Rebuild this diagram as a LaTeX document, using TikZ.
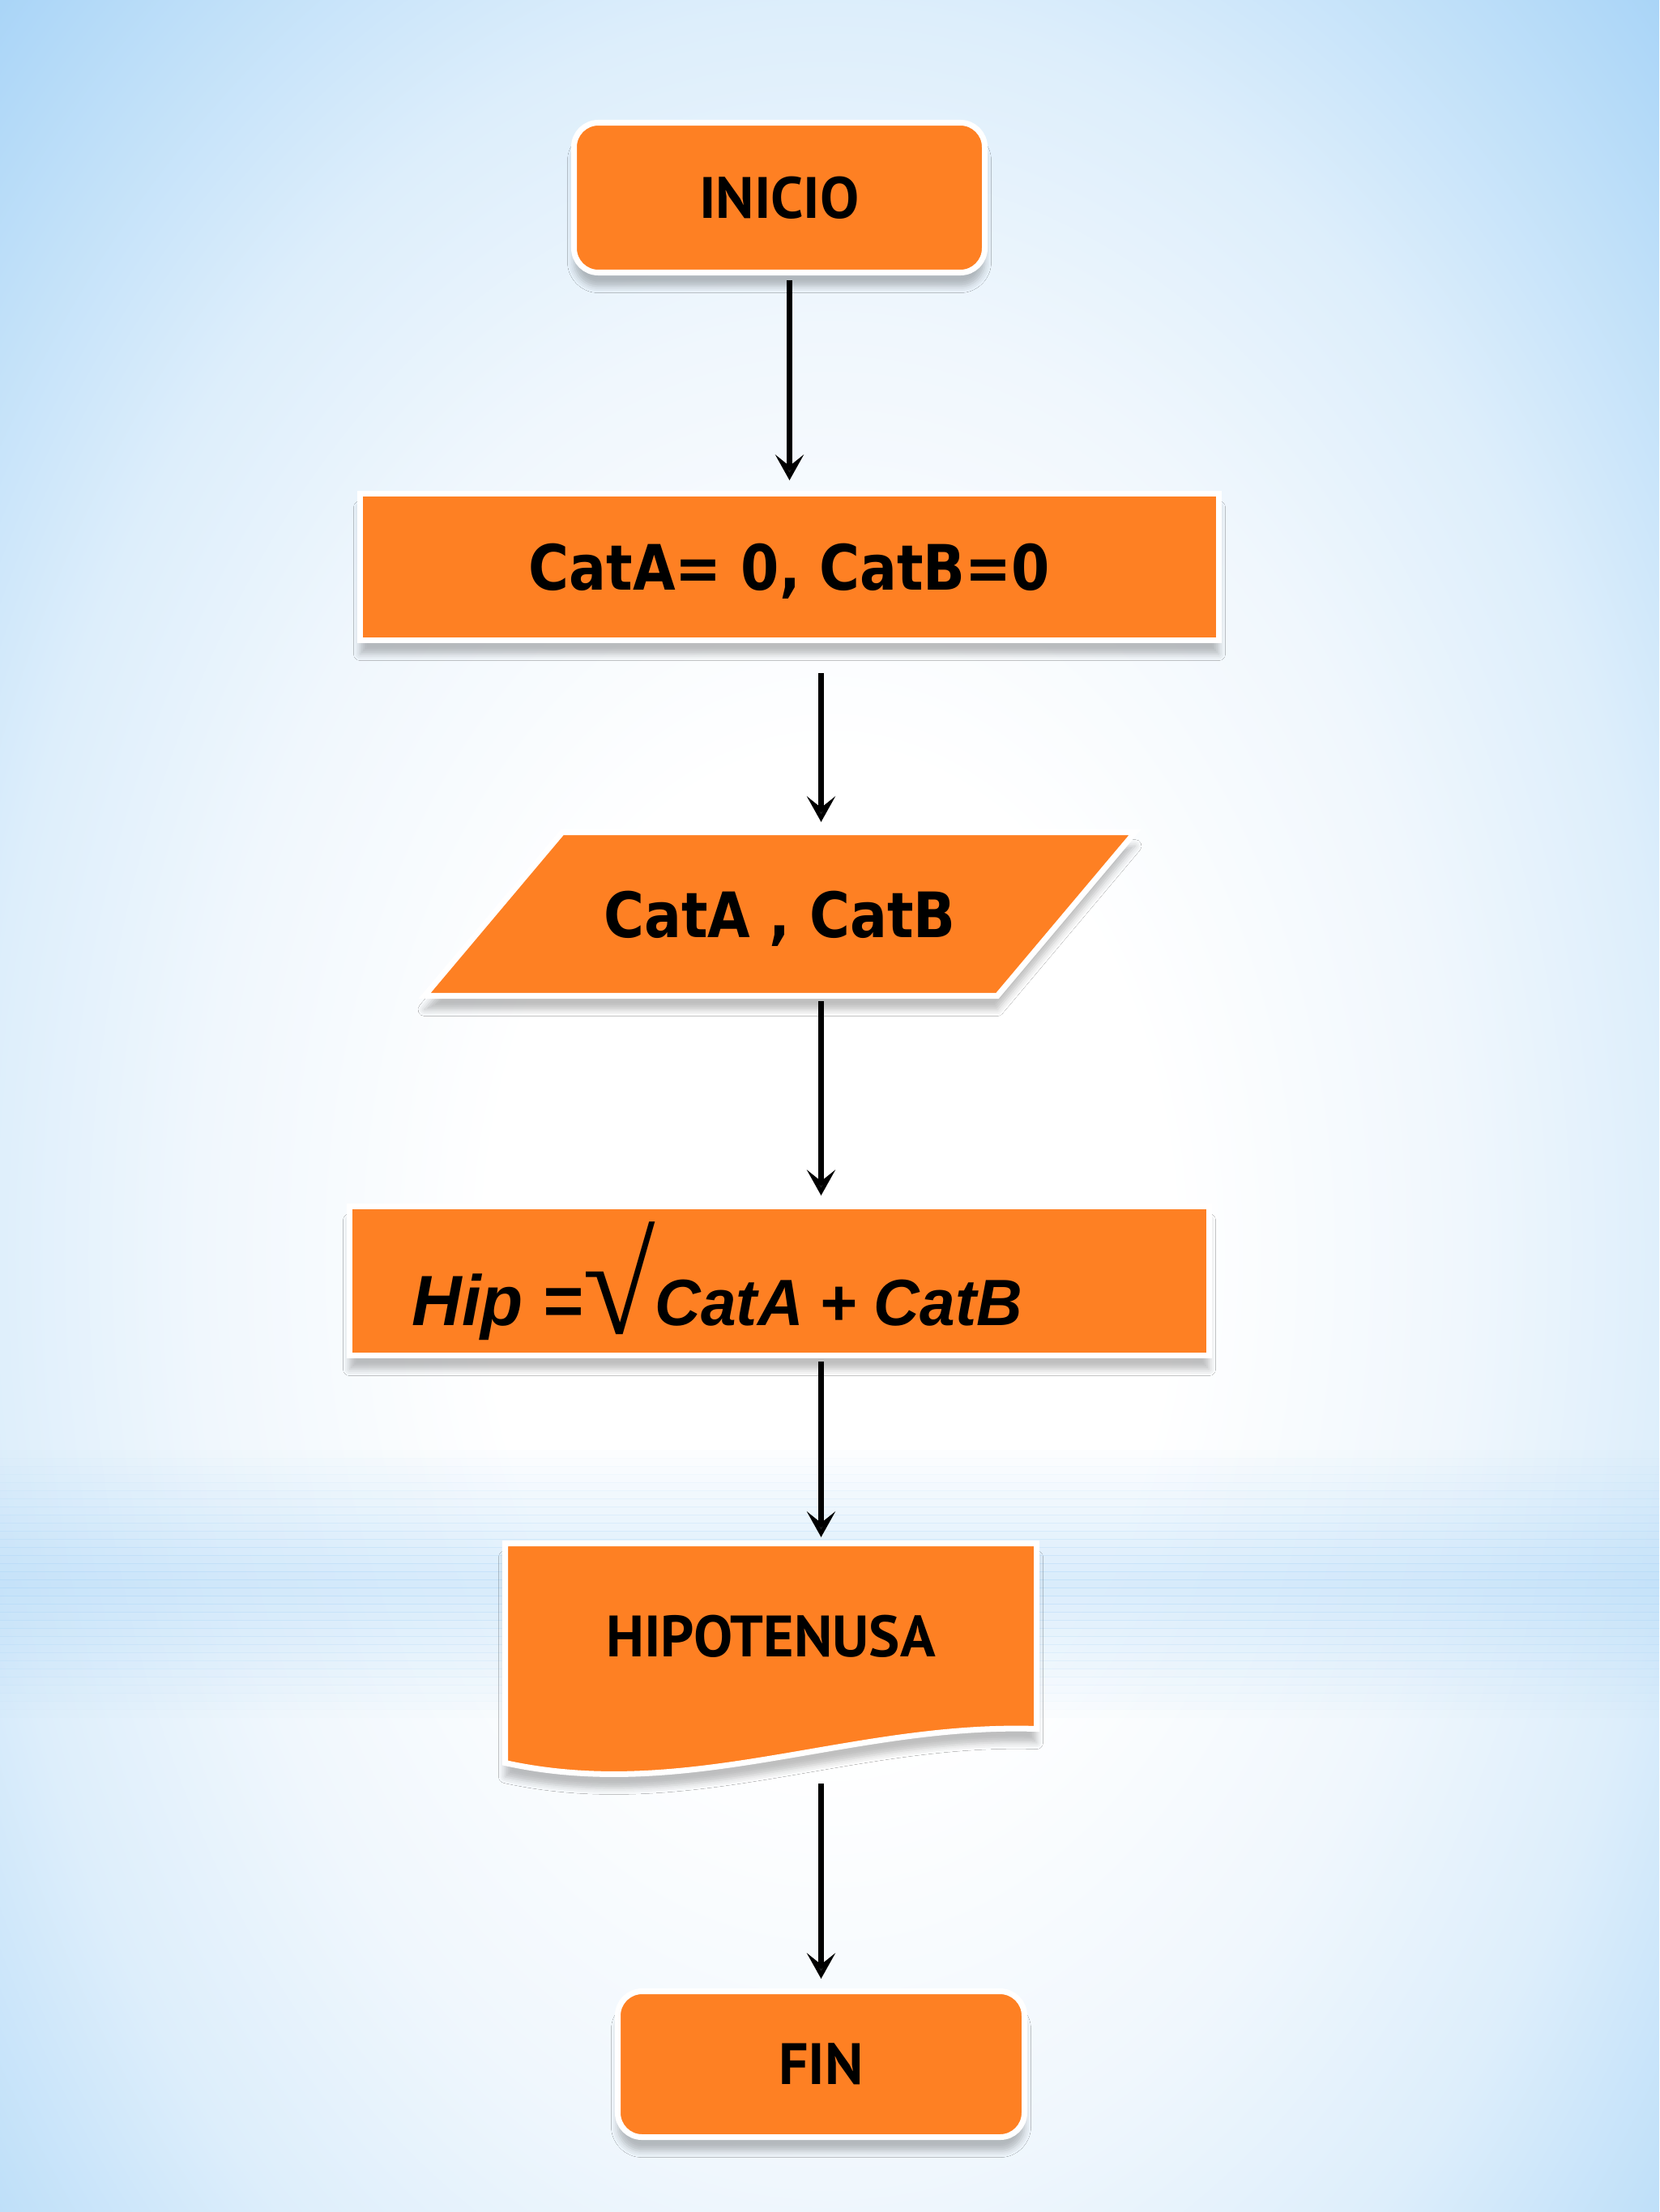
\documentclass[tikz,border=0pt]{standalone}
\usepackage{fontspec}
\usepackage{graphicx}
\usetikzlibrary{arrows.meta, shadows.blur}

\newfontfamily\rotulo{PT Sans}
\newfontfamily\asigfont[FakeStretch=0.88]{DejaVu Sans}
\newfontfamily\formula[FakeStretch=0.97]{Liberation Sans}
\newfontfamily\raiz{Liberation Serif}

\definecolor{naranja}{RGB}{254,128,35}
\definecolor{cielo}{RGB}{166,211,247}
\definecolor{cielofuerte}{RGB}{192,224,249}
\definecolor{cielomedio}{RGB}{221,238,251}
\definecolor{cielosuave}{RGB}{240,247,253}

% the path box is the middle 50bp of the shading
\pgfdeclareradialshading{fondo}{\pgfpoint{0bp}{0bp}}{%
  color(0bp)=(white); color(7bp)=(white); color(13bp)=(cielosuave);
  color(17.5bp)=(cielomedio); color(21.5bp)=(cielofuerte); color(25bp)=(cielo);
  color(50bp)=(cielo)}

\tikzset{
  bloque/.style={fill=naranja, draw=white, line width=2pt, inner sep=0pt,
    blur shadow={shadow xshift=0pt, shadow yshift=-0.17cm,
      shadow blur radius=0.08cm, shadow opacity=25}},
  terminal/.style={bloque, rounded corners=0.3cm,
    font=\rotulo\bfseries\fontsize{20.5}{24}\selectfont},
  flecha/.style={-{Stealth[length=9pt,width=10pt,inset=4pt]}, line width=2pt}
}

\begin{document}
\begin{tikzpicture}
  \useasboundingbox (0,0) rectangle (20.48,-27.31);
  % fondo
  \begin{scope}
    \clip (0,0) rectangle (20.48,-27.31);
    \shade[shading=fondo] (-4.76,6.5) rectangle (25.24,-37.5);
    \foreach \k [evaluate=\k as \op using {0.42*(1-abs(\k-16)/17)}] in {0,...,32}
      \shade[left color=cielo, middle color=cielosuave, right color=cielo,
        fill opacity=\op] (0,{-17.9-0.1*\k}) rectangle (20.48,{-18.0-0.1*\k});
  \end{scope}

  % bloques
  \node[terminal, minimum width=5.07cm, minimum height=1.85cm] (inicio)
    at (9.62,-2.44) {INICIO};
  \node[bloque, minimum width=10.6cm, minimum height=1.81cm, text depth=0pt,
    font=\asigfont\bfseries\fontsize{22}{26}\selectfont] (asig)
    at (9.745,-7.00) {CatA= 0, CatB=0};

  % lectura
  \path[bloque] (6.94,-10.275) -- (14.01,-10.275) -- (12.31,-12.295)
    -- (5.24,-12.295) -- cycle;
  \node[minimum width=7.0cm, minimum height=2.02cm, inner sep=0pt,
    text depth=0pt, font=\asigfont\bfseries\fontsize{22}{26}\selectfont] (lect)
    at (9.625,-11.285) {CatA , CatB};

  \node[bloque, minimum width=10.61cm, minimum height=1.84cm,
    text width=9.07cm, align=left, inner xsep=0.77cm,
    font=\formula\bfseries\itshape] (proc) at (9.62,-15.815)
    {\fontsize{25}{28}\selectfont Hip\hspace{0.12cm} =\raisebox{-0.1cm}{\scalebox{1.45}[1.55]{\raiz\mdseries\upshape\fontsize{32}{32}\selectfont √}}\fontsize{23}{26}\selectfont CatA\hspace{0.08cm} + \hspace{0.1cm}CatB};

  % documento
  \path[bloque] (6.235,-19.055) -- (12.795,-19.055) -- (12.795,-21.345)
    .. controls (10.50,-21.27) and (8.50,-22.26) .. (6.235,-21.765) -- cycle;
  \node[minimum width=6.56cm, minimum height=2.29cm, inner sep=0pt,
    font=\rotulo\bfseries\fontsize{20.5}{24}\selectfont] (doc)
    at (9.515,-20.20) {HIPOTENUSA};

  \node[terminal, minimum width=5.02cm, minimum height=1.80cm] (fin)
    at (10.135,-25.485) {FIN};

  % flechas
  \draw[flecha, shorten <=0.06cm, shorten >=0.13cm] (inicio.south -| asig.north) -- (asig.north);
  \draw[flecha, shorten <=0.37cm, shorten >=0.12cm] (asig.south -| fin.north) -- (lect.north -| fin.north);
  \draw[flecha, shorten <=0.06cm, shorten >=0.10cm] (lect.south -| fin.north) -- (proc.north -| fin.north);
  \draw[flecha, shorten <=0.04cm, shorten >=0.07cm] (proc.south -| fin.north) -- (doc.north -| fin.north);
  \draw[flecha, shorten <=0.67cm, shorten >=0.12cm] (doc.south -| fin.north) -- (fin.north);
\end{tikzpicture}
\end{document}
